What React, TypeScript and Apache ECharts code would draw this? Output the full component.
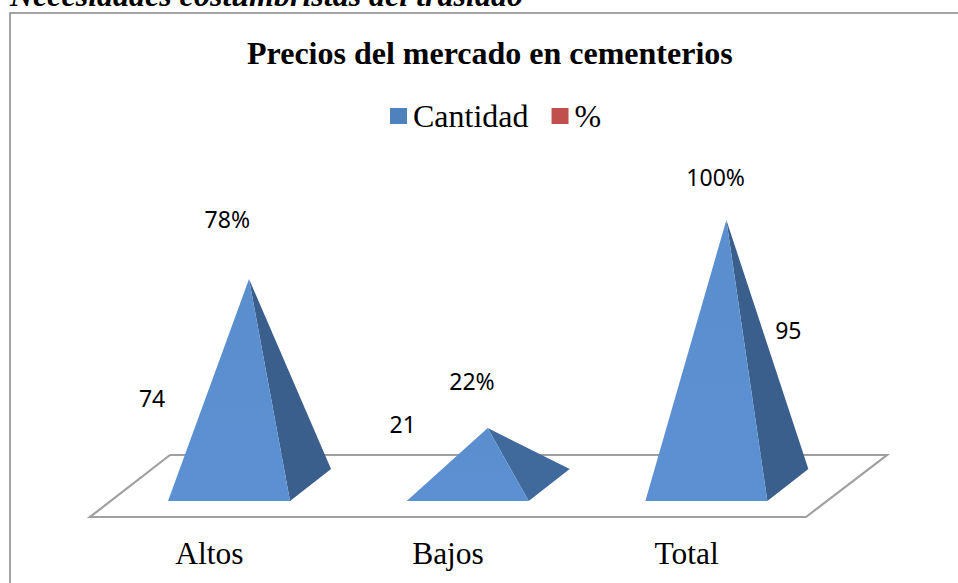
import React, { useEffect, useRef } from "react";
import * as echarts from "echarts";

const categories = ["Altos", "Bajos", "Total"];
const cantidad = [74, 21, 95];
const porcentaje = [78, 22, 100];
const chartTitle = "Precios del mercado en cementerios";
const pageHeading = "Necesidades costumbristas del traslado";
const seriesNames = ["Cantidad", "%"];

const SERIF = '"Liberation Serif", "Times New Roman", serif';
const SANS = '"Noto Sans", sans-serif';
const HALF_BASE = 61;
const FRONT_SHIFT = 19.7;
const APEX_SHIFT = 39.7;
const DEPTH_X = 41;
const DEPTH_Y = 32;
const BASE_DROP = 14;
const LABEL_SIZE = 23;
const sideColors = ["#3a5f8c", "#40699c", "#3a5f8c"];
const valueLabelOffset = [[-97, 119], [-85, -4], [62, 110]];
const percentLabelOffset = [[18, -49], [24, -44], [29, -29]];

export default function App() {
  const ref = useRef<HTMLDivElement>(null);
  useEffect(() => {
    const chart = echarts.init(ref.current!, null, { renderer: "svg" });
    chart.setOption({
      animation: false,
      backgroundColor: "#ffffff",
      title: {
        text: chartTitle,
        left: 242,
        top: 32,
        textStyle: { fontFamily: SERIF, fontWeight: "bold", fontSize: 32, color: "#000000" },
      },
      legend: {
        left: 385,
        top: 95,
        icon: "rect",
        itemWidth: 17,
        itemHeight: 16,
        itemGap: 23,
        textStyle: { fontFamily: SERIF, fontSize: 32, color: "#000000", padding: [0, 0, 0, 1] },
      },
      grid: { left: 90, width: 716, top: 206, height: 281 },
      xAxis: {
        type: "category",
        data: categories,
        axisLine: { show: false },
        axisTick: { show: false },
        axisLabel: { fontFamily: SERIF, fontSize: 31.5, color: "#000000", margin: 50 },
      },
      yAxis: { type: "value", min: 0, max: 100, show: false },
      graphic: [
        {
          type: "polyline",
          z: 0,
          shape: { points: [[10, 583], [10, 13], [958, 13]] },
          style: { stroke: "#868686", lineWidth: 1.5, fill: "none" },
        },
        {
          type: "polygon",
          z: 0,
          shape: { points: [[90, 517], [806, 517], [887, 455], [170, 455]] },
          style: { stroke: "#a0a0a0", lineWidth: 2.2, fill: "#ffffff" },
        },
        {
          type: "text",
          z: 1,
          x: 10,
          y: -21,
          style: {
            text: pageHeading,
            font: `italic bold 32px ${SERIF}`,
            fill: "#000000",
          },
        },
      ],
      series: [
        {
          name: seriesNames[0],
          type: "custom",
          silent: true,
          itemStyle: { color: "#4f81bd" },
          encode: { x: 0, y: 1 },
          data: cantidad.map((v, i) => [i, v]),
          renderItem: (params: any, api: any) => {
            const i = params.dataIndex;
            const [cx, top] = api.coord([api.value(0), api.value(1)]);
            const [, zero] = api.coord([api.value(0), 0]);
            const base = zero + BASE_DROP;
            const fc = cx + FRONT_SHIFT;
            const ax = cx + APEX_SHIFT;
            const left = [fc - HALF_BASE, base];
            const right = [fc + HALF_BASE, base];
            const back = [right[0] + DEPTH_X, base - DEPTH_Y];
            const apex = [ax, top];
            return {
              type: "group",
              children: [
                {
                  type: "polygon",
                  shape: { points: [right, back, apex] },
                  style: { fill: sideColors[i] },
                },
                {
                  type: "polygon",
                  shape: { points: [left, right, apex] },
                  style: {
                    fill: new echarts.graphic.LinearGradient(0, 0, 0, 1, [
                      { offset: 0, color: "#5a8ecd" },
                      { offset: 1, color: "#5b90d3" },
                    ]),
                  },
                },
                {
                  type: "text",
                  style: {
                    text: String(api.value(1)),
                    x: ax + valueLabelOffset[i][0],
                    y: top + valueLabelOffset[i][1],
                    align: "center",
                    verticalAlign: "middle",
                    fontFamily: SANS,
                    fontSize: LABEL_SIZE,
                    fill: "#000000",
                  },
                },
              ],
            };
          },
        },
        {
          name: seriesNames[1],
          type: "custom",
          silent: true,
          itemStyle: { color: "#c0504d" },
          encode: { x: 0, y: 1 },
          data: porcentaje.map((v, i) => [i, v]),
          renderItem: (params: any, api: any) => {
            const i = params.dataIndex;
            const [cx, top] = api.coord([api.value(0), api.value(1)]);
            return {
              type: "text",
              style: {
                text: `${api.value(1)}%`,
                x: cx + percentLabelOffset[i][0],
                y: top + percentLabelOffset[i][1],
                align: "center",
                verticalAlign: "middle",
                fontFamily: SANS,
                fontSize: LABEL_SIZE,
                fill: "#000000",
              },
            };
          },
        },
      ],
    });
    return () => chart.dispose();
  }, []);
  return (
    <div
      ref={ref}
      style={{ position: "fixed", left: 0, top: 0, width: 958, height: 583, background: "#fff" }}
    />
  );
}
